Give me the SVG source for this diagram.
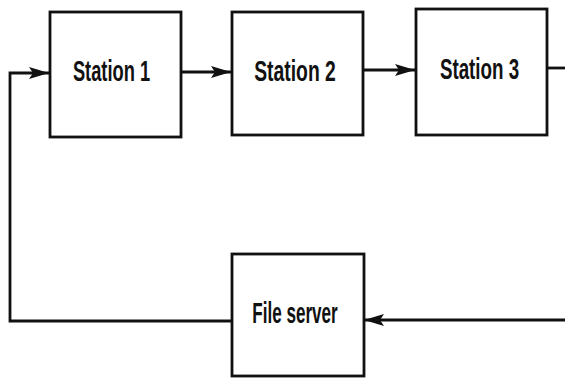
<svg xmlns="http://www.w3.org/2000/svg" width="565" height="379" viewBox="0 0 565 379">
<style>
.box{fill:#fff;stroke:#111;stroke-width:2.8}
.ln{fill:none;stroke:#111;stroke-width:2.8}
.lbl{font-family:"Liberation Sans",Arial,sans-serif;font-size:30px;font-weight:bold;fill:#111;text-anchor:middle}
</style>
<defs>
<marker id="ah" markerUnits="userSpaceOnUse" markerWidth="20" markerHeight="12" refX="20" refY="6" orient="auto">
<path d="M0,0 L20,6 L0,12 L4,6 Z" fill="#111"/>
</marker>
</defs>
<rect width="565" height="379" fill="#fff"/>
<g id="connectors">
<polyline class="ln" points="232,321 10,321 10,73 49,73" marker-end="url(#ah)"/>
<line class="ln" x1="181" y1="72" x2="231" y2="72" marker-end="url(#ah)"/>
<line class="ln" x1="363" y1="70" x2="415" y2="70" marker-end="url(#ah)"/>
<line class="ln" x1="547" y1="68" x2="565" y2="68"/>
<line class="ln" x1="565" y1="320" x2="364" y2="320" marker-end="url(#ah)"/>
</g>
<g id="station1">
<rect class="box" x="50" y="12" width="131" height="125"/>
<text class="lbl" transform="translate(111.5,81) scale(0.61,1)">Station 1</text>
</g>
<g id="station2">
<rect class="box" x="232" y="12" width="131" height="123"/>
<text class="lbl" transform="translate(295,81) scale(0.645,1)">Station 2</text>
</g>
<g id="station3">
<rect class="box" x="416" y="9" width="131" height="126"/>
<text class="lbl" transform="translate(479.5,79) scale(0.625,1)">Station 3</text>
</g>
<g id="fileserver">
<rect class="box" x="232" y="254" width="132" height="122"/>
<text class="lbl" transform="translate(295,323) scale(0.57,1)">File server</text>
</g>
</svg>
